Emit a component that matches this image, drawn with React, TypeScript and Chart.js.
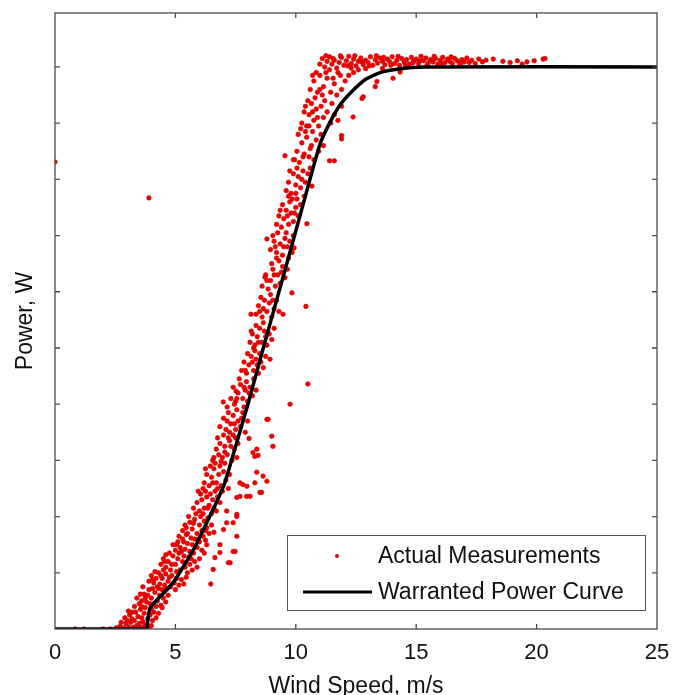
import React, { useEffect, useRef } from "react";
import { Chart, registerables } from "chart.js";

Chart.register(...registerables);

const xTickValues = [0, 5, 10, 15, 20, 25];
const yTickValues = [1, 2, 3, 4, 5, 6, 7, 8, 9, 10];

const curveSpeed = [0, 3.8, 3.85, 3.95, 4.9, 5.75, 6.3, 6.7, 7.05, 7.5, 8.0, 8.65, 9.3, 10.0, 10.6, 11.0, 11.4, 11.85, 12.3, 12.9, 13.5, 14.2, 15.3, 25];
const curvePower = [0, 0, 0.15, 0.38, 0.82, 1.41, 1.89, 2.25, 2.6, 3.25, 3.98, 5.0, 6.0, 7.08, 8.02, 8.62, 9.0, 9.33, 9.55, 9.78, 9.9, 9.96, 10, 10];

const measuredStart: [number, number][] = [
  [0.83, 0], [1.2, 0], [2.0, 0], [2.3, 0],
  [2.55, 0.02], [2.7, 0.05], [2.85, 0.02], [2.95, 0.1], [3.05, 0.04], [3.15, 0.12], [3.25, 0.03], [3.3, 0.15], [3.4, 0.06], [3.5, 0.1], [3.55, 0.02], [3.65, 0.13], [3.7, 0.05], [3.8, 0.08], [3.9, 0.03], [4.0, 0.06], [2.75, 0.12], [3.0, 0.15],
  [2.9, 0.2], [3.1, 0.25], [3.2, 0.18], [3.35, 0.3], [3.45, 0.22], [3.55, 0.35], [3.6, 0.2], [3.7, 0.28], [3.75, 0.38], [3.85, 0.18], [3.95, 0.25], [4.05, 0.15], [4.1, 0.3], [4.2, 0.2], [3.3, 0.4], [3.5, 0.45], [4.3, 0.28], [3.05, 0.32], [4.0, 0.36],
  [3.4, 0.55], [3.6, 0.5], [3.7, 0.62], [3.8, 0.48], [3.9, 0.7], [4.0, 0.55], [4.1, 0.45], [4.15, 0.65], [4.25, 0.5], [4.35, 0.6], [4.4, 0.42], [4.5, 0.55], [4.55, 0.68], [4.6, 0.48], [3.65, 0.75], [3.85, 0.6], [4.05, 0.72], [4.3, 0.72], [4.7, 0.6], [4.45, 0.38],
  [3.9, 0.85], [4.0, 0.95], [4.1, 0.82], [4.2, 0.9], [4.3, 1.0], [4.35, 0.8], [4.45, 0.9], [4.55, 0.78], [4.6, 0.98], [4.7, 0.85], [4.8, 0.75], [4.85, 0.95], [4.95, 0.82], [5.05, 0.9], [5.15, 0.78], [5.25, 0.88], [5.35, 0.8], [5.45, 0.92], [4.25, 0.75], [4.65, 0.72], [5.0, 0.7], [4.15, 1.02], [4.5, 1.05],
  [3.2, 0.3], [3.6, 0.4], [3.95, 0.45], [4.2, 0.4], [3.75, 0.55], [4.45, 0.7], [4.75, 0.92], [3.55, 0.62], [4.05, 0.88], [4.4, 0.95],
];

const measuredRise: [number, number][] = [
  [4.4, 1.15], [4.5, 1.25], [4.6, 1.1], [4.7, 1.2], [4.8, 1.05], [4.9, 1.3], [5.0, 1.15], [5.1, 1.25], [5.2, 1.05], [5.3, 1.2], [5.4, 1.1], [5.5, 1.0], [5.6, 1.15], [5.7, 1.05], [5.8, 1.2], [4.75, 1.35], [5.05, 1.02], [5.35, 1.3], [5.55, 1.28], [5.9, 1.1], [4.6, 1.32], [5.25, 1.38], [6.0, 1.25],
  [4.9, 1.5], [5.0, 1.4], [5.1, 1.55], [5.2, 1.45], [5.3, 1.6], [5.4, 1.42], [5.5, 1.52], [5.6, 1.38], [5.7, 1.5], [5.8, 1.6], [5.9, 1.45], [6.0, 1.55], [6.1, 1.4], [6.2, 1.35], [6.25, 1.58], [5.15, 1.65], [5.45, 1.68], [5.75, 1.35], [6.3, 1.5],
  [5.3, 1.75], [5.4, 1.85], [5.5, 1.7], [5.6, 1.9], [5.7, 1.78], [5.8, 1.95], [5.9, 1.7], [6.0, 1.85], [6.1, 1.75], [6.2, 1.92], [6.3, 1.8], [6.4, 1.7], [6.5, 1.85], [5.55, 2.0], [5.85, 2.05], [6.15, 1.65], [6.35, 1.98], [6.05, 2.0], [6.6, 1.72],
  [5.75, 2.15], [5.9, 2.25], [6.0, 2.1], [6.1, 2.3], [6.2, 2.15], [6.3, 2.35], [6.4, 2.2], [6.5, 2.05], [6.55, 2.3], [6.6, 2.15], [6.7, 2.1], [6.75, 2.35], [6.05, 2.4], [6.25, 2.45], [6.45, 2.4], [6.85, 2.25], [5.95, 2.45], [6.65, 2.45],
  [6.2, 2.6], [6.3, 2.75], [6.4, 2.55], [6.5, 2.7], [6.6, 2.85], [6.7, 2.6], [6.8, 2.75], [6.9, 2.55], [7.0, 2.8], [7.1, 2.65], [7.2, 2.5], [6.45, 2.9], [6.65, 2.95], [6.85, 2.9], [7.05, 2.95], [7.25, 2.75], [6.25, 2.85], [6.95, 2.45],
  [4.55, 1.2], [4.85, 1.15], [5.15, 1.35], [5.65, 1.25], [5.05, 1.5], [5.35, 1.55], [5.65, 1.62], [5.95, 1.6], [5.45, 1.8], [5.75, 1.88], [6.25, 1.75], [6.15, 2.05], [6.35, 2.15], [6.15, 2.5], [6.55, 2.6], [6.75, 2.5], [6.55, 3.0],
];

const measuredMid: [number, number][] = [
  [6.6, 3.05], [6.7, 3.2], [6.8, 3.1], [6.85, 3.3], [6.95, 3.05], [7.05, 3.25], [7.15, 3.1], [7.25, 3.35], [7.35, 3.0], [7.45, 3.2], [7.55, 3.05], [6.75, 3.4], [7.0, 3.45], [7.2, 3.4], [7.4, 3.45], [7.6, 3.3], [6.9, 2.98],
  [6.85, 3.6], [7.0, 3.75], [7.1, 3.55], [7.2, 3.85], [7.3, 3.65], [7.4, 3.8], [7.5, 3.55], [7.6, 3.7], [7.7, 3.6], [7.8, 3.85], [7.9, 3.5], [8.0, 3.7], [7.25, 3.5], [7.55, 3.9], [7.15, 3.95], [7.85, 3.95],
  [7.3, 4.1], [7.4, 4.3], [7.5, 4.05], [7.6, 4.2], [7.7, 4.35], [7.8, 4.1], [7.9, 4.25], [8.0, 4.05], [8.1, 4.3], [8.2, 4.15], [8.35, 4.25], [7.65, 4.45], [7.95, 4.4], [8.25, 4.45], [7.45, 4.0],
  [7.75, 4.6], [7.85, 4.75], [7.95, 4.55], [8.05, 4.7], [8.15, 4.85], [8.25, 4.6], [8.35, 4.8], [8.45, 4.55], [8.55, 4.75], [8.65, 4.65], [8.75, 4.85], [8.0, 4.9], [8.3, 4.95], [8.5, 4.9],
  [8.1, 5.1], [8.2, 5.25], [8.3, 5.05], [8.4, 5.2], [8.5, 5.35], [8.6, 5.1], [8.7, 5.3], [8.8, 5.05], [8.9, 5.25], [9.0, 5.15], [8.35, 5.4], [8.65, 5.45], [9.1, 5.35], [8.25, 5.0],
  [8.35, 5.6], [8.45, 5.75], [8.6, 5.55], [8.7, 5.85], [8.8, 5.65], [8.9, 5.8], [9.0, 5.55], [9.1, 5.7], [9.2, 5.85], [9.3, 5.65], [8.55, 5.9], [8.95, 5.95],
  [8.6, 6.1], [8.75, 6.3], [8.85, 6.05], [8.95, 6.2], [9.05, 6.4], [9.15, 6.1], [9.25, 6.3], [9.35, 6.15], [9.45, 6.45], [9.55, 6.25], [9.65, 6.4], [9.0, 6.5], [9.3, 6.55], [9.7, 6.6],
  [8.95, 6.75], [9.1, 6.9], [9.2, 6.7], [9.35, 6.85], [9.45, 6.65], [9.55, 6.95], [9.65, 6.8], [9.75, 6.9], [9.85, 6.7], [9.05, 7.0], [9.25, 7.05], [9.9, 7.0],
  [7.05, 3.15], [7.3, 3.25], [7.5, 3.4], [7.15, 3.7], [7.45, 3.65], [7.75, 3.75], [7.55, 4.1], [7.85, 4.3], [8.05, 4.2], [7.9, 4.6], [8.2, 4.75], [8.4, 4.7], [8.15, 5.3], [8.45, 5.1], [8.75, 5.2], [8.5, 5.65], [8.65, 5.7], [9.05, 5.85], [8.8, 6.2], [9.1, 6.3], [9.4, 6.35], [9.2, 6.6], [9.5, 6.8], [9.15, 6.8],
];

const measuredKnee: [number, number][] = [
  [9.2, 7.2], [9.3, 7.35], [9.4, 7.15], [9.5, 7.3], [9.6, 7.45], [9.7, 7.2], [9.8, 7.4], [9.9, 7.25], [10.0, 7.5], [10.1, 7.35], [9.45, 7.55], [9.75, 7.6], [10.05, 7.65], [10.2, 7.55], [9.6, 7.05],
  [9.6, 7.8], [9.7, 7.95], [9.8, 7.75], [9.9, 8.1], [10.0, 7.9], [10.1, 8.05], [10.2, 7.85], [10.3, 8.15], [10.4, 7.95], [10.5, 8.1], [9.75, 8.15], [10.05, 8.2], [10.35, 7.7], [10.6, 8.2], [9.85, 7.65],
  [9.95, 8.35], [10.05, 8.5], [10.15, 8.3], [10.25, 8.65], [10.35, 8.45], [10.45, 8.75], [10.55, 8.4], [10.65, 8.6], [10.75, 8.35], [10.85, 8.7], [10.95, 8.5], [11.05, 8.8], [10.1, 8.8], [10.4, 8.85], [10.7, 8.85], [11.15, 8.6],
  [10.25, 9.0], [10.35, 9.2], [10.45, 8.95], [10.55, 9.15], [10.65, 9.35], [10.75, 9.05], [10.85, 9.25], [10.95, 8.95], [11.05, 9.3], [11.15, 9.1], [11.3, 9.2], [11.45, 9.0], [11.6, 9.15], [11.75, 9.05], [10.5, 9.4], [10.8, 9.45], [11.2, 9.4], [11.5, 9.35], [11.9, 9.3],
  [10.6, 9.6], [10.75, 9.75], [10.9, 9.55], [11.0, 9.85], [11.15, 9.65], [11.3, 9.8], [11.45, 9.55], [11.6, 9.7], [11.75, 9.9], [11.9, 9.6], [12.05, 9.75], [11.1, 9.5], [11.4, 9.95], [11.7, 9.5], [12.2, 9.85], [12.4, 9.9], [10.85, 9.9],
  [12.3, 9.98], [12.6, 9.95], [12.9, 9.97],
  [9.35, 7.45], [9.65, 7.35], [9.95, 7.4], [9.7, 7.7], [10.0, 7.75], [10.25, 8.0], [9.9, 8.35], [10.3, 8.4], [10.6, 8.55], [10.2, 8.9], [10.55, 8.95], [10.9, 9.1], [10.4, 9.3], [10.7, 9.2], [11.0, 9.6], [10.7, 9.85], [11.25, 9.9], [11.55, 9.8], [11.85, 9.85],
];

const measuredRated: [number, number][] = [
  [11.0, 10.05], [11.1, 10.15], [11.2, 10.0], [11.3, 10.1], [11.4, 10.18], [11.5, 10.05], [11.6, 10.12], [11.7, 9.98], [11.8, 10.08], [11.9, 10.17], [12.0, 10.03], [12.1, 10.11], [12.2, 10.19], [12.3, 10.06], [12.4, 10.14], [12.5, 10.02], [12.6, 10.1], [12.7, 10.16], [12.8, 10.04], [12.9, 10.12],
  [13.0, 10.08], [13.1, 10.18], [13.2, 10.03], [13.3, 10.13], [13.4, 10.07], [13.5, 10.16], [13.6, 10.1], [13.7, 10.04], [13.8, 10.14], [13.9, 10.09], [14.0, 10.18], [14.1, 10.06], [14.2, 10.12], [14.3, 10.03], [14.4, 10.15], [14.5, 10.09], [14.6, 10.13], [14.7, 10.05], [14.8, 10.17], [14.9, 10.1],
  [15.0, 10.14], [15.1, 10.06], [15.2, 10.19], [15.3, 10.11], [15.4, 10.16], [15.5, 10.07], [15.6, 10.13], [15.7, 10.09], [15.8, 10.15], [15.9, 10.05], [16.0, 10.12], [16.1, 10.17], [16.2, 10.08], [16.3, 10.14], [16.4, 10.1], [16.5, 10.06], [16.6, 10.15], [16.7, 10.11], [16.8, 10.07], [16.9, 10.13],
  [17.0, 10.09], [17.1, 10.16], [17.2, 10.08], [17.3, 10.12], [17.45, 10.06], [17.6, 10.14], [17.75, 10.09], [17.9, 10.12], [18.2, 10.14], [18.6, 10.1], [18.9, 10.08], [19.2, 10.11], [19.4, 10.05], [19.6, 10.09], [19.9, 10.11], [20.27, 10.14], [20.35, 10.15],
  [11.25, 10.2], [11.55, 10.15], [11.85, 10.2], [12.15, 10.02], [12.45, 10.2], [12.75, 10.09], [13.05, 10.02], [13.35, 10.2], [13.65, 10.17], [13.95, 10.03], [14.25, 10.19], [14.55, 10.02], [14.85, 10.07], [15.15, 10.11], [15.45, 10.03], [15.75, 10.19], [16.05, 10.05], [16.45, 10.18], [16.85, 10.03],
];

const measuredOutliers: [number, number][] = [
  [0, 8.31], [3.9, 7.67],
  [6.47, 0.8], [6.57, 1.06], [6.64, 1.27], [6.85, 1.36], [6.85, 1.5], [7.4, 1.38], [7.48, 1.38], [7.27, 1.18], [7.2, 1.18], [7.55, 1.65], [7.0, 1.77], [7.4, 1.89], [7.55, 2.0], [7.55, 2.04], [7.13, 1.89], [7.13, 2.1],
  [7.68, 2.36], [7.55, 2.34], [8.1, 2.36], [7.96, 2.36], [7.97, 2.54], [8.38, 2.79], [8.8, 2.63], [8.64, 2.72], [8.51, 2.43], [8.58, 2.43], [7.68, 2.6], [7.8, 2.57], [8.3, 2.6],
  [8.3, 3.07], [9.05, 3.25], [9.0, 3.43], [8.8, 3.73], [8.85, 3.73], [8.38, 3.2], [8.43, 3.09], [8.06, 3.39], [8.22, 3.14], [6.99, 4.04], [7.52, 4.23], [9.76, 4.0], [10.5, 4.36], [8.93, 4.8],
  [8.72, 6.26], [8.8, 6.94], [10.46, 7.21], [10.42, 5.74], [8.14, 5.6], [9.47, 5.6], [9.84, 5.98], [9.93, 6.78], [10.67, 7.88], [9.55, 8.42],
  [11.9, 8.78], [11.9, 8.72], [11.4, 8.33], [11.6, 8.33], [12.38, 9.11], [12.75, 9.44], [12.8, 9.47], [13.3, 9.65], [13.37, 9.74], [14.04, 9.8], [13.6, 9.97], [14.33, 9.91],
];

const seriesNames = ["Actual Measurements", "Warranted Power Curve"];
const FONT = '"Liberation Sans", Arial, Helvetica, sans-serif';

const boxPlugin = {
  id: "matlabBox",
  afterDraw(chart: any) {
    const { ctx, chartArea: a, scales } = chart;
    const xs = scales.x;
    const ys = scales.y;
    ctx.save();
    ctx.strokeStyle = "#4a4a4a";
    ctx.lineWidth = 1.3;
    ctx.strokeRect(a.left, a.top, a.right - a.left, a.bottom - a.top);
    const tl = 5;
    ctx.beginPath();
    for (const v of xTickValues) {
      const px = xs.getPixelForValue(v);
      if (px <= a.left + 1 || px >= a.right - 1) continue;
      ctx.moveTo(px, a.bottom);
      ctx.lineTo(px, a.bottom - tl);
      ctx.moveTo(px, a.top);
      ctx.lineTo(px, a.top + tl);
    }
    for (const v of yTickValues) {
      const py = ys.getPixelForValue(v);
      ctx.moveTo(a.left, py);
      ctx.lineTo(a.left + tl, py);
      ctx.moveTo(a.right, py);
      ctx.lineTo(a.right - tl, py);
    }
    ctx.stroke();

    // legend box inside the plot area
    const w = 358;
    const h = 75;
    const bl = a.right - 12 - w;
    const bt = a.bottom - 19 - h;
    ctx.fillStyle = "#ffffff";
    ctx.fillRect(bl, bt, w, h);
    ctx.strokeStyle = "#555555";
    ctx.lineWidth = 1;
    ctx.strokeRect(bl + 0.5, bt + 0.5, w, h);

    ctx.fillStyle = "#e00000";
    ctx.beginPath();
    ctx.arc(bl + 50, bt + 21, 2, 0, Math.PI * 2);
    ctx.fill();

    ctx.strokeStyle = "#000000";
    ctx.lineWidth = 3;
    ctx.beginPath();
    ctx.moveTo(bl + 16, bt + 57);
    ctx.lineTo(bl + 85, bt + 57);
    ctx.stroke();

    ctx.fillStyle = "#111111";
    ctx.font = `23px ${FONT}`;
    ctx.textBaseline = "middle";
    ctx.textAlign = "left";
    ctx.fillText(seriesNames[0], bl + 91, bt + 22);
    ctx.fillText(seriesNames[1], bl + 91, bt + 58);
    ctx.restore();
  },
};

export default function App() {
  const ref = useRef<HTMLCanvasElement | null>(null);
  useEffect(() => {
    document.body.style.margin = "0";
    const canvas = ref.current;
    if (!canvas) return;
    const measured = [
      ...measuredStart,
      ...measuredRise,
      ...measuredMid,
      ...measuredKnee,
      ...measuredRated,
      ...measuredOutliers,
    ].map(([x, y]) => ({ x, y }));
    const curve = curveSpeed.map((x, i) => ({ x, y: curvePower[i] }));
    const chart = new Chart(canvas, {
      type: "scatter",
      data: {
        datasets: [
          {
            type: "line",
            label: seriesNames[1],
            data: curve,
            borderColor: "#000000",
            borderWidth: 3.5,
            pointRadius: 0,
            tension: 0.15,
            order: 0,
          } as any,
          {
            type: "scatter",
            label: seriesNames[0],
            data: measured,
            backgroundColor: "#f00000",
            borderColor: "#c80000",
            borderWidth: 0.6,
            pointRadius: 2.3,
            order: 1,
          },
        ],
      },
      options: {
        animation: false,
        responsive: false,
        devicePixelRatio: 1,
        layout: { padding: { top: 13, right: 26, left: 0, bottom: 0 } },
        plugins: { legend: { display: false }, tooltip: { enabled: false } },
        scales: {
          x: {
            type: "linear",
            min: 0,
            max: 25,
            afterFit: (s: any) => {
              s.height = 66;
            },
            ticks: {
              stepSize: 5,
              padding: 11,
              color: "#111",
              font: { family: FONT, size: 22 },
            },
            grid: { display: false, drawTicks: false },
            border: { display: false },
            title: {
              display: true,
              text: "Wind Speed, m/s",
              color: "#111",
              font: { family: FONT, size: 23 },
              padding: { top: 0, bottom: -5 },
            },
          },
          y: {
            type: "linear",
            min: 0,
            max: 10.96,
            afterFit: (s: any) => {
              s.width = 55;
            },
            ticks: { display: false, stepSize: 1 },
            grid: { display: false, drawTicks: false },
            border: { display: false },
            title: {
              display: true,
              text: "Power, W",
              color: "#111",
              font: { family: FONT, size: 23 },
              padding: { top: 12, bottom: 0 },
            },
          },
        },
      },
      plugins: [boxPlugin],
    });
    return () => chart.destroy();
  }, []);
  return (
    <canvas
      ref={ref}
      width={683}
      height={695}
      style={{ display: "block", width: 683, height: 695 }}
    />
  );
}
